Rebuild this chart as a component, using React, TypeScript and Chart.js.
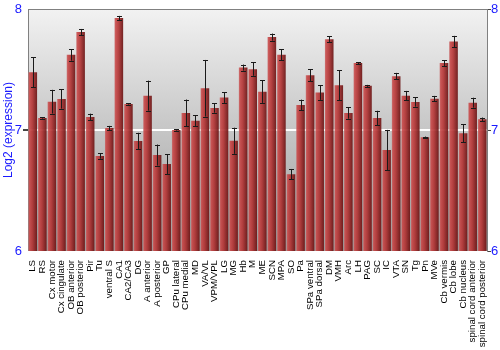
import React, { useEffect, useRef } from "react";
import { Chart, registerables } from "chart.js";

Chart.register(...registerables);

const categories = [
  "LS", "RS", "Cx motor", "Cx cingulate", "OB anterior", "OB posterior", "Pir", "Tu",
  "ventral S", "CA1", "CA2/CA3", "DG", "A anterior", "A posterior", "GP", "CPu lateral",
  "CPu medial", "MD", "VA/VL", "VPM/VPL", "LG", "MG", "Hb", "M", "ME", "SCN", "MPA", "SO",
  "Pa", "SPa ventral", "SPa dorsal", "DM", "VMH", "Arc", "LH", "PAG", "SC", "IC", "VTA",
  "SN", "Tg", "Pn", "MVe", "Cb vermis", "Cb lobe", "Cb nucleus", "spinal cord anterior",
  "spinal cord posterior",
];

const meanValues = [
  7.478, 7.099, 7.234, 7.257, 7.621, 7.809, 7.108, 6.785,
  7.017, 7.925, 7.215, 6.909, 7.284, 6.793, 6.718, 7.0,
  7.141, 7.077, 7.345, 7.182, 7.268, 6.911, 7.516, 7.503, 7.317, 7.768, 7.621, 6.635,
  7.207, 7.453, 7.309, 7.751, 7.37, 7.141, 7.553, 7.365, 7.099, 6.834, 7.445,
  7.284, 7.232, 6.94, 7.259, 7.553, 7.732, 6.973, 7.226,
  7.089,
];

const errorValues = [
  0.124, 0.005, 0.098, 0.08, 0.048, 0.026, 0.027, 0.022,
  0.017, 0.018, 0.005, 0.068, 0.124, 0.087, 0.083, 0.005,
  0.111, 0.046, 0.234, 0.039, 0.044, 0.108, 0.025, 0.055, 0.093, 0.029, 0.046, 0.043,
  0.044, 0.048, 0.06, 0.023, 0.124, 0.048, 0.008, 0.008, 0.06, 0.167, 0.027,
  0.039, 0.039, 0.006, 0.023, 0.025, 0.046, 0.076, 0.041,
  0.014,
];

const yTicks = [6, 7, 8];

const backgroundPlugin = {
  id: "bgGradient",
  beforeDraw(chart: any) {
    const { ctx, chartArea } = chart;
    if (!chartArea) return;
    const g = ctx.createLinearGradient(0, chartArea.top, 0, chartArea.bottom);
    g.addColorStop(0, "#f2f2f2");
    g.addColorStop(0.5, "#c6c6c6");
    g.addColorStop(1, "#9c9c9c");
    ctx.save();
    ctx.fillStyle = g;
    ctx.fillRect(chartArea.left, chartArea.top, chartArea.right - chartArea.left, chartArea.bottom - chartArea.top);
    ctx.restore();
  },
  afterDraw(chart: any) {
    const { ctx, chartArea } = chart;
    ctx.save();
    ctx.strokeStyle = "#808080";
    ctx.lineWidth = 1;
    ctx.beginPath();
    ctx.moveTo(chartArea.left, Math.round(chartArea.top) + 0.5);
    ctx.lineTo(chartArea.right, Math.round(chartArea.top) + 0.5);
    ctx.stroke();
    ctx.restore();
  },
};

const errorBarPlugin = {
  id: "errorBars",
  afterDatasetsDraw(chart: any) {
    const { ctx } = chart;
    const meta = chart.getDatasetMeta(0);
    const ys = chart.scales.y;
    ctx.save();
    meta.data.forEach((bar: any, i: number) => {
      const v = meanValues[i];
      const e = errorValues[i];
      const x = Math.round(bar.x) + 0.5;
      const yTop = ys.getPixelForValue(v + e);
      const yBot = ys.getPixelForValue(v - e);
      ctx.strokeStyle = "#1a1a1a";
      ctx.lineWidth = 1;
      ctx.beginPath();
      ctx.moveTo(x, yTop);
      ctx.lineTo(x, yBot);
      ctx.moveTo(x - 2.5, Math.round(yTop) + 0.5);
      ctx.lineTo(x + 2.5, Math.round(yTop) + 0.5);
      ctx.moveTo(x - 2.5, Math.round(yBot) + 0.5);
      ctx.lineTo(x + 2.5, Math.round(yBot) + 0.5);
      ctx.stroke();
    });
    ctx.restore();
  },
};

function barFill(context: any) {
  const chart = context.chart;
  const xs = chart.scales && chart.scales.x;
  if (!xs || !chart.chartArea || context.dataIndex === undefined) return "#b03a3a";
  const cx = xs.getPixelForValue(context.dataIndex);
  const w = (chart.chartArea.right - chart.chartArea.left) / categories.length * 0.9;
  const g = chart.ctx.createLinearGradient(cx - w / 2, 0, cx + w / 2, 0);
  g.addColorStop(0, "rgba(200,110,110,0.9)");
  g.addColorStop(0.12, "rgba(200,72,72,0.9)");
  g.addColorStop(0.45, "rgba(178,50,50,0.9)");
  g.addColorStop(1, "rgba(105,18,18,0.92)");
  return g;
}

export default function App() {
  const canvasRef = useRef<HTMLCanvasElement | null>(null);

  useEffect(() => {
    document.body.style.margin = "0";
    const canvas = canvasRef.current;
    if (!canvas) return;
    const blue = "#1a1aff";
    const font = "'Liberation Sans', Arial, sans-serif";
    const chart = new Chart(canvas, {
      type: "bar",
      data: {
        labels: categories,
        datasets: [
          {
            data: meanValues,
            backgroundColor: barFill,
            borderWidth: 0,
            barPercentage: 0.9,
            categoryPercentage: 1.0,
          },
        ],
      },
      options: {
        animation: false,
        responsive: false,
        maintainAspectRatio: false,
        layout: { padding: { top: 9, left: 0, right: 0, bottom: 0 } },
        plugins: {
          legend: { display: false },
          tooltip: { enabled: false },
        },
        scales: {
          x: {
            grid: { display: false },
            border: { display: false },
            afterFit: (axis: any) => {
              axis.height = 99;
            },
            ticks: {
              autoSkip: false,
              maxRotation: 90,
              minRotation: 90,
              color: "#000",
              padding: 1,
              font: { family: font, size: 9.7 },
            },
          },
          y: {
            position: "left",
            min: 6,
            max: 8,
            afterBuildTicks: (axis: any) => {
              axis.ticks = yTicks.map((v) => ({ value: v }));
            },
            afterFit: (axis: any) => {
              axis.width = 28;
            },
            grid: {
              color: (c: any) => (c.tick && c.tick.value === 7 ? "#ffffff" : "rgba(0,0,0,0)"),
              lineWidth: (c: any) => (c.tick && c.tick.value === 7 ? 2 : 0),
              tickColor: "#444",
              tickLength: 5,
              drawTicks: true,
            },
            border: { display: true, color: "#808080", width: 1 },
            title: {
              display: true,
              text: "Log2 (expression)",
              color: blue,
              font: { family: font, size: 12 },
              padding: { top: 1, bottom: 0 },
            },
            ticks: {
              color: blue,
              padding: 1,
              font: { family: font, size: 13 },
            },
          },
          y2: {
            position: "right",
            min: 6,
            max: 8,
            afterBuildTicks: (axis: any) => {
              axis.ticks = yTicks.map((v) => ({ value: v }));
            },
            afterFit: (axis: any) => {
              axis.width = 13;
            },
            grid: { drawOnChartArea: false, tickColor: "#444", tickLength: 4 },
            border: { display: true, color: "#808080", width: 1 },
            ticks: {
              color: blue,
              padding: 0,
              font: { family: font, size: 13 },
            },
          },
        },
      },
      plugins: [backgroundPlugin, errorBarPlugin],
    });
    return () => chart.destroy();
  }, []);

  return (
    <div style={{ width: 500, height: 350 }}>
      <canvas ref={canvasRef} width={500} height={350} style={{ display: "block" }} />
    </div>
  );
}
